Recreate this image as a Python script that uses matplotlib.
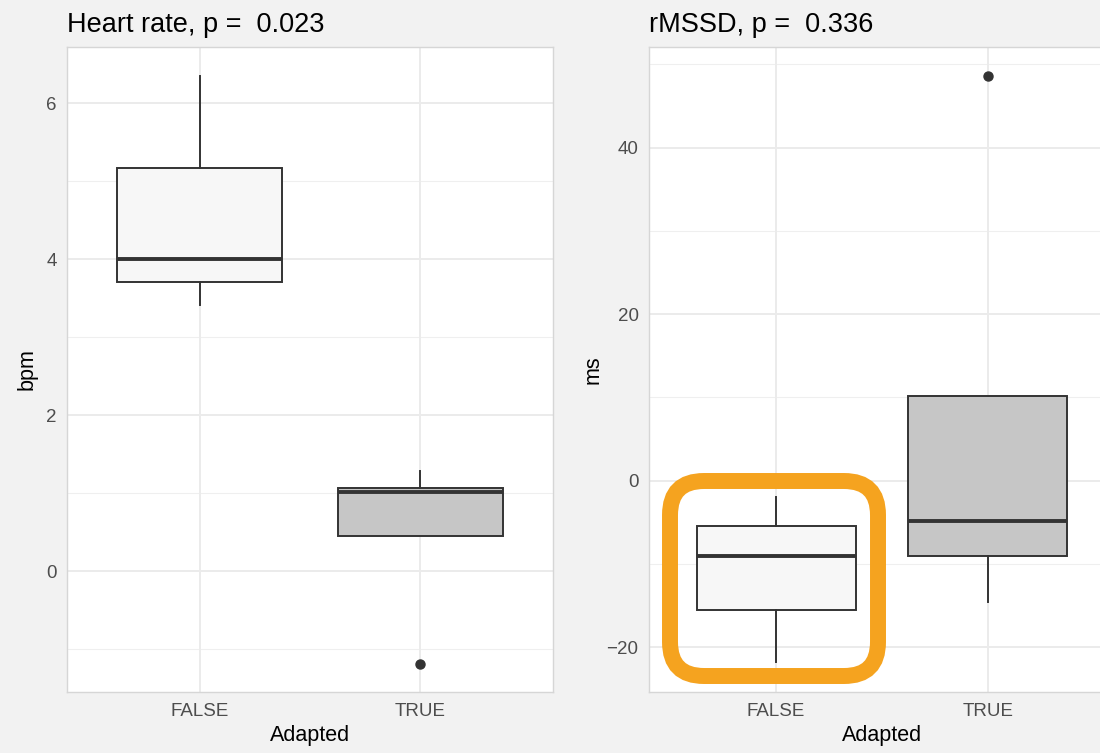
import matplotlib.pyplot as plt
import matplotlib.patches as mpatches
from matplotlib.transforms import IdentityTransform

plt.rcParams['font.family'] = ['Liberation Sans', 'DejaVu Sans']

groups = ["FALSE", "TRUE"]

# heart rate change (bpm): whisker low, Q1, median, Q3, whisker high
hr_low = [3.41, 0.45]
hr_q1 = [3.71, 0.45]
hr_med = [4.00, 1.01]
hr_q3 = [5.17, 1.07]
hr_high = [6.35, 1.29]
hr_out = [[], [-1.19]]

# rMSSD change (ms)
rm_low = [-21.8, -14.6]
rm_q1 = [-15.5, -9.1]
rm_med = [-9.1, -4.8]
rm_q3 = [-5.5, 10.2]
rm_high = [-2.0, 10.2]
rm_out = [[], [48.6]]

fills = ["#F7F7F7", "#C6C6C6"]

W, H = 1100, 753
fig = plt.figure(figsize=(W / 100, H / 100), dpi=100)
fig.patch.set_facecolor("#F2F2F2")


def px_axes(x0, y0, x1, y1):
    return fig.add_axes([x0 / W, (H - y1) / H, (x1 - x0) / W, (y1 - y0) / H])


def panel(ax, low, q1, med, q3, high, out, ylim, major, minor, title,
          ylabel, ylabelpad):
    stats = []
    for i in range(len(groups)):
        stats.append(dict(whislo=low[i], q1=q1[i], med=med[i], q3=q3[i],
                          whishi=high[i], fliers=out[i]))
    ax.set_facecolor("white")
    ax.set_xlim(0.4, 2.6)
    ax.set_ylim(*ylim)
    for v in minor:
        ax.axhline(v, color="#EFEFEF", lw=0.8, zorder=0)
    for v in major:
        ax.axhline(v, color="#EBEBEB", lw=1.4, zorder=0)
    for p in (1, 2):
        ax.axvline(p, color="#EBEBEB", lw=1.4, zorder=0)
    bp = ax.bxp(stats, positions=[1, 2], widths=0.75, patch_artist=True,
                showcaps=False,
                boxprops=dict(edgecolor="#333333", linewidth=1.4),
                whiskerprops=dict(color="#333333", linewidth=1.4),
                medianprops=dict(color="#333333", linewidth=2.8),
                flierprops=dict(marker="o", markersize=6.5,
                                markerfacecolor="#333333",
                                markeredgecolor="#333333"))
    for box, c in zip(bp["boxes"], fills):
        box.set_facecolor(c)
    ax.set_xticks([1, 2])
    ax.set_xticklabels(groups)
    ax.set_yticks(major)
    ax.tick_params(length=0, labelsize=13.5, labelcolor="#4D4D4D")
    ax.tick_params(axis="x", pad=8)
    ax.tick_params(axis="y", pad=7.5)
    for s in ax.spines.values():
        s.set_color("#D6D6D6")
        s.set_linewidth(1.0)
    ax.set_xlabel("Adapted", fontsize=15.5, labelpad=3.5)
    ax.set_ylabel(ylabel, fontsize=15.5, labelpad=ylabelpad)
    ax.set_title(title, loc="left", fontsize=19.5, pad=11)


ax1 = px_axes(67, 47, 553, 692)
panel(ax1, hr_low, hr_q1, hr_med, hr_q3, hr_high, hr_out,
      (-1.55, 6.72), [0, 2, 4, 6], [-1, 1, 3, 5],
      "Heart rate, p =  0.023", "bpm", 6)

ax2 = px_axes(649, 47, 1115, 692)
panel(ax2, rm_low, rm_q1, rm_med, rm_q3, rm_high, rm_out,
      (-25.4, 52.1), [-20, 0, 20, 40], [-10, 10, 30, 50],
      "rMSSD, p =  0.336", "ms", 2.5)

# highlight around the FALSE box of rMSSD (pixel coordinates)
hl = mpatches.FancyBboxPatch((670 + 28, H - 676 + 28), 208 - 56, 195 - 56,
                             boxstyle="round,pad=28,rounding_size=34",
                             transform=IdentityTransform(), fill=False,
                             edgecolor="#F5A31F", linewidth=11.5, zorder=10)
fig.patches.append(hl)

fig.savefig("out.png", dpi=100, facecolor=fig.get_facecolor())
